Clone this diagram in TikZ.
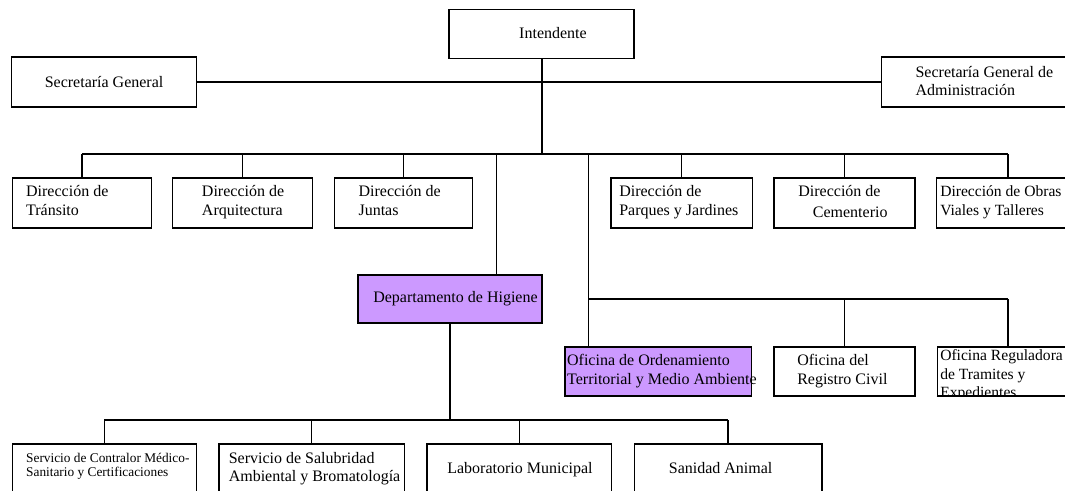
\documentclass[tikz,border=0pt]{standalone}
\usepackage{fontspec}
\setmainfont{Liberation Serif}
\usetikzlibrary{fit}
\definecolor{lila}{HTML}{CC99FF}
\begin{document}
\begin{tikzpicture}[x=0.75pt,y=-0.75pt,
  box/.style={draw, line width=1.1pt, inner sep=0pt, fill=white},
  hl/.style={box, fill=lila},
  wire/.style={line width=1.1pt},
  lbl/.style={anchor=base west, inner sep=0pt, font=\fontsize{12}{14}\selectfont},
  lblc/.style={lbl, anchor=base},
  edge/.style={lbl, font=\fontsize{11.7}{14}\selectfont},
  small/.style={lbl, font=\fontsize{10}{12}\selectfont}]
\useasboundingbox (0,0) rectangle (1065,490);

% boxes
\node[box, fit={(449,9.5) (634,58.5)}] (int) {};
\node[box, fit={(11.4,57) (196.5,107)}] (sg) {};
\node[box, fit={(881.6,57) (1075,107)}] (sga) {};
\node[box, fit={(12.4,178) (151.7,228)}] (d1) {};
\node[box, fit={(172.7,178) (312.3,228)}] (d2) {};
\node[box, fit={(334.3,178) (472.7,228)}] (d3) {};
\node[box, fit={(611,178) (752.3,228)}] (d4) {};
\node[box, fit={(774,178) (915,228)}] (d5) {};
\node[box, fit={(936.7,178) (1075,228)}] (d6) {};
\node[hl,  fit={(357.8,275) (542,323)}] (hig) {};
\node[hl,  fit={(565.2,347) (751.6,396)}] (o1) {};
\node[box, fit={(774,347) (915,396)}] (o2) {};
\node[box, fit={(937.4,347) (1075,396)}] (o3) {};
\node[box, fit={(12.4,444) (196.5,505)}] (b1) {};
\node[box, fit={(219.2,444) (404.3,505)}] (b2) {};
\node[box, fit={(427,444) (611.7,505)}] (b3) {};
\node[box, fit={(634.4,444) (821.9,505)}] (b4) {};

% junction points
\coordinate (spine) at (542,154);
\coordinate (higtap) at (496.3,154);
\coordinate (ofitap) at (588.6,154);
\coordinate (d6tap) at (1008,154);
\coordinate (ofibus) at (588.6,299);
\coordinate (o3tap) at (1008,299);
\coordinate (lowbus) at (hig.south |- 0,420);

% connectors
\draw[wire] (sg.east) -- (sga.west);
\draw[wire] (spine |- int.south) -- (spine);
\draw[wire] (d1.north |- spine) -- (d6tap);
\foreach \n in {d1,d2,d3,d4,d5}
  \draw[wire] (\n.north) -- (\n.north |- spine);
\draw[wire] (d6tap) -- (d6tap |- d6.north);
\draw[wire] (higtap) -- (higtap |- hig.north);
\draw[wire] (ofitap) -- (ofitap |- o1.north);
\draw[wire] (ofibus) -- (o3tap);
\draw[wire] (o2.north) -- (o2.north |- ofibus);
\draw[wire] (o3tap) -- (o3tap |- o3.north);
\draw[wire] (hig.south) -- (lowbus);
\draw[wire] (b1.north |- lowbus) -- (b4.north |- lowbus);
\foreach \n in {b1,b2,b3,b4}
  \draw[wire] (\n.north) -- (\n.north |- lowbus);

% labels
\node[lblc] (t-int) at (553,38) {Intendente};
\node[lbl] (t-sg) at (44.5,87) {Secretaría General};
\node[lbl] (t-sga1) at (915.3,77) {Secretaría General de};
\node[lbl] (t-sga2) at (915.3,95) {Administración};
\node[lbl] (t-d1a) at (25.9,196) {Dirección de};
\node[lbl] (t-d1b) at (25.9,215) {Tránsito};
\node[lbl] (t-d2a) at (201.7,196) {Dirección de};
\node[lbl] (t-d2b) at (201.7,215) {Arquitectura};
\node[lbl] (t-d3a) at (358.3,196) {Dirección de};
\node[lbl] (t-d3b) at (358.3,215) {Juntas};
\node[lbl] (t-d4a) at (619,196) {Dirección de};
\node[lbl] (t-d4b) at (619,215) {Parques y Jardines};
\node[lbl] (t-d5a) at (798.1,196) {Dirección de};
\node[lbl] (t-d5b) at (812.6,217) {Cementerio};
\node[edge] (t-d6a) at (940,196) {Dirección de Obras};
\node[edge] (t-d6b) at (940,215) {Viales y Talleres};
\node[lbl] (t-hig) at (373,302) {Departamento de Higiene};
\node[lbl] (t-o1a) at (566.9,365) {Oficina de Ordenamiento};
\node[lbl] (t-o1b) at (566.9,384) {Territorial y Medio Ambiente};
\node[lbl] (t-o2a) at (797,365) {Oficina del};
\node[lbl] (t-o2b) at (797,384) {Registro Civil};
\begin{scope}
  \clip (o3.north west) rectangle (o3.south east);
  \node[edge] (t-o3a) at (940,360.5) {Oficina Reguladora};
  \node[edge] (t-o3b) at (940,379) {de Tramites y};
  \node[edge] (t-o3c) at (940,397.5) {Expedientes};
\end{scope}
\draw[wire] (o3.south west) -- (o3.south east);
\node[small] (t-b1a) at (25.9,462.7) {Servicio de Contralor Médico-};
\node[small] (t-b1b) at (25.9,476) {Sanitario y Certificaciones};
\node[lbl] (t-b2a) at (228.5,463) {Servicio de Salubridad};
\node[lbl] (t-b2b) at (228.5,481) {Ambiental y Bromatología};
\node[lblc] (t-b3) at (520,473) {Laboratorio Municipal};
\node[lbl] (t-b4) at (668.6,473) {Sanidad Animal};
\end{tikzpicture}
\end{document}
